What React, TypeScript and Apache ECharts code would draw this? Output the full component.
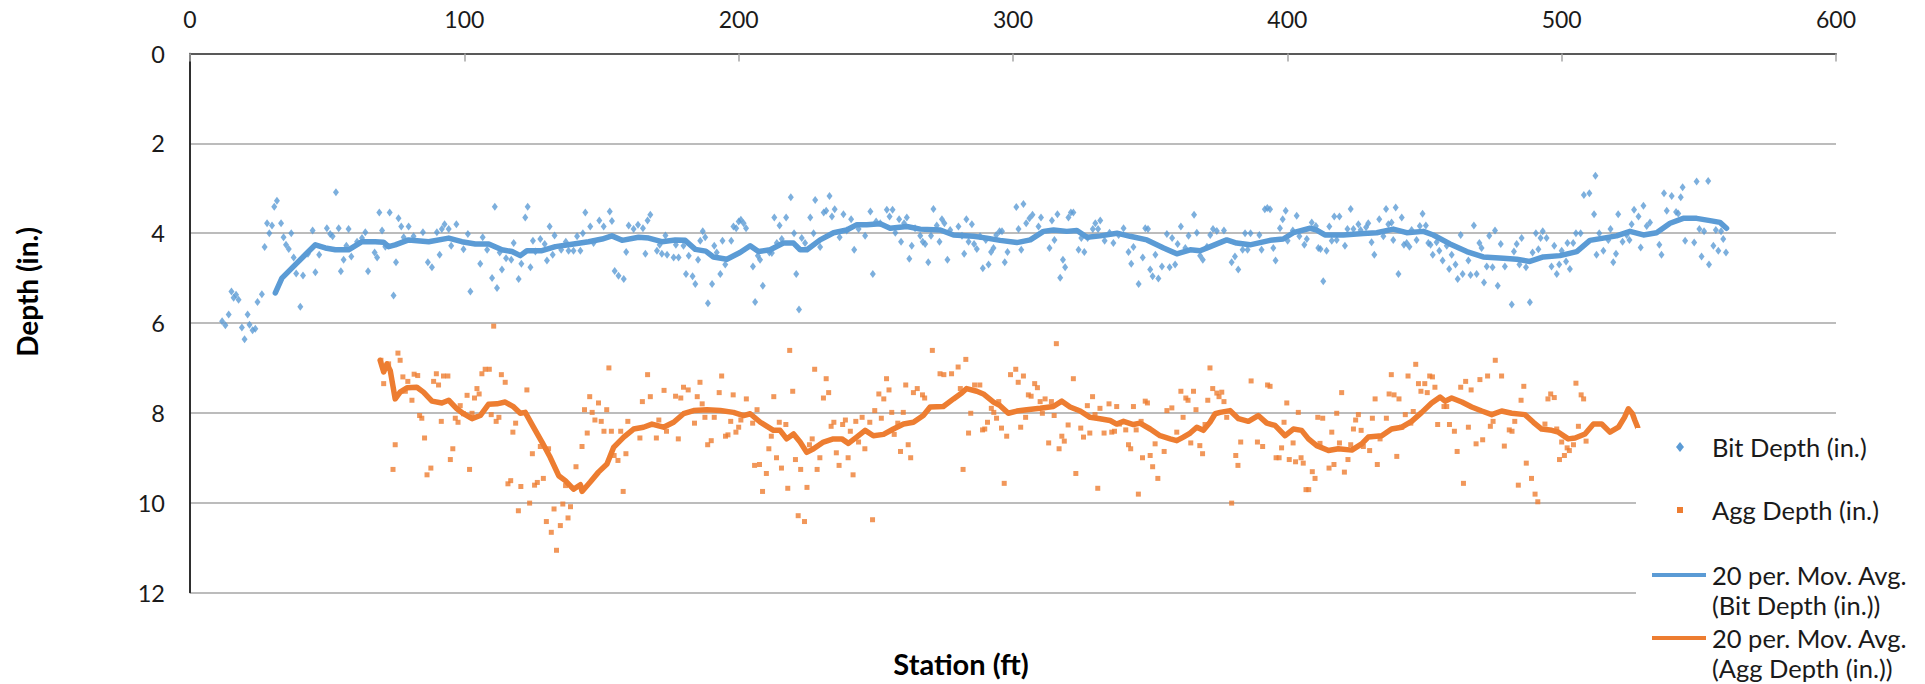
import { useEffect, useRef } from "react";
import * as echarts from "echarts";

// ---------- data ----------
const X_MIN = 0;
const X_MAX = 600;
const X_INTERVAL = 100;
const Y_MIN = 0;
const Y_MAX = 12;
const Y_INTERVAL = 2;

const SERIES_NAMES = [
  "Bit Depth (in.)",
  "Agg Depth (in.)",
  "20 per. Mov. Avg. (Bit Depth (in.))",
  "20 per. Mov. Avg. (Agg Depth (in.))",
];

// Bit depth samples [station ft, depth in.]
const bitDepthPoints: [number, number][] = [
  [11.7,5.96],[12.9,6.05],[14.1,5.81],[15.1,5.30],[15.9,5.44],[16.8,5.37],[17.7,5.48],[18.9,6.10],[19.9,6.36],[21,5.81],
  [21.7,6.04],[22.8,6.16],[23.8,6.13],[24.6,5.53],[26.2,5.36],[27.2,4.31],[28.1,3.78],[28.9,4.0],[29.9,3.83],[30.7,3.41],
  [31.7,3.28],[33.2,3.78],[34.1,4.09],[35,4.26],[36,4.35],[36.9,4.0],[37.8,4.54],[38.7,4.90],[40.2,5.64],[41.2,4.94],
  [43,4.46],[44.7,3.94],[45.7,4.87],[47.1,4.48],[49.9,3.89],[51.1,4.02],[52,4.07],[53.2,3.09],[54.2,3.89],[55,4.85],
  [56,4.59],[57,4.28],[57.8,3.91],[58.8,4.52],[60.9,4.19],[62.7,4.11],[63.9,3.98],[64.9,4.85],[67.3,4.43],[68.2,4.54],
  [69,3.54],[70,3.94],[71.2,4.30],[72.8,3.54],[74.2,5.39],[75.1,4.65],[76,3.67],[77,3.85],[77.9,4.09],[79.7,3.85],
  [81.5,4.07],[84.9,3.98],[86.7,4.65],[88.2,4.76],[90,3.98],[91,4.48],[91.8,3.91],[92.8,3.80],[94.3,3.91],[95.2,4.28],
  [97.1,3.80],[99.7,4.36],[101.3,4.02],[102.2,5.30],[105.8,4.68],[106.7,4.09],[108.3,4.37],[110.1,5.0],[111.1,3.41],[111.9,5.22],
  [112.9,4.43],[113.7,4.81],[115.2,4.56],[117.1,4.59],[118,4.22],[119.8,5.02],[120.8,4.68],[122.2,3.65],[123.1,3.41],[124.1,4.76],
  [125,4.17],[125.9,4.41],[127.7,4.13],[129.3,4.24],[130.1,4.61],[131.1,3.85],[132.2,4.48],[132.9,4.05],[135.3,4.37],[137,4.19],
  [138,4.39],[139.8,4.39],[141.1,4.07],[142.3,4.39],[143.2,4.0],[144.1,3.54],[145.9,3.85],[147.1,4.22],[149.2,3.72],[150.8,3.85],
  [153,3.52],[153.8,3.73],[154.8,4.84],[156.2,4.95],[158.1,5.02],[159,4.42],[159.9,3.83],[161.7,3.91],[163.3,3.81],[165.1,3.89],
  [166,4.46],[166.8,3.72],[167.8,3.59],[170.2,4.39],[171.2,4.26],[172,4.46],[173.3,4.05],[173.9,4.48],[176.3,4.54],[177.1,4.26],
  [178.1,4.54],[179.9,4.28],[180.8,4.91],[181.8,4.50],[183.2,4.96],[184.2,5.13],[185.2,4.59],[186,4.17],[186.9,3.96],[187.8,4.09],
  [188.8,5.56],[190.3,5.13],[191.1,4.28],[192,4.43],[193.3,4.91],[194.1,4.17],[195.1,4.70],[197.3,4.17],[198.1,3.85],[199.1,3.89],
  [200,3.74],[200.8,3.70],[201.8,3.78],[202.7,3.89],[205.2,4.74],[206,5.53],[207,4.50],[207.8,4.59],[208.8,5.17],[211.2,4.43],
  [212.1,4.44],[213,3.65],[213.9,4.22],[214.9,3.83],[215.7,4.13],[217.3,3.65],[219,3.20],[220.2,4.0],[221,4.91],[222,5.70],
  [223,4.11],[224.2,4.22],[226.1,3.65],[227.3,4.0],[227.9,3.26],[229.7,4.31],[231,3.54],[231.9,3.50],[233.1,3.17],[234,3.63],
  [235,3.47],[236.8,4.09],[238.2,3.58],[239.4,3.94],[241,3.69],[242.1,4.37],[243.7,3.91],[246.1,4.06],[248,3.52],[248.9,4.91],
  [250.1,3.74],[251.6,3.78],[254,3.48],[255,3.63],[256.1,3.48],[257.1,3.99],[258.5,3.69],[259.2,4.19],[260.3,3.78],[261.3,3.65],
  [262.2,4.57],[263.1,4.28],[264.3,3.89],[266.2,4.06],[267.1,4.19],[268,4.24],[269.1,4.65],[270.1,4.06],[271,3.46],[272.2,3.83],
  [273.2,4.19],[274.1,3.69],[275,3.78],[276.1,4.59],[277.1,3.93],[280.1,3.85],[281.4,4.06],[282.2,4.46],[283,3.69],[283.8,4.19],
  [285,3.80],[285.8,4.24],[286.8,4.35],[288,4.07],[289,4.78],[290.1,4.15],[291.1,4.70],[292,4.42],[292.9,4.33],[293.9,4.04],
  [295.1,3.96],[296,3.96],[297,4.65],[298,4.42],[301.2,3.42],[302,3.91],[303,4.37],[303.8,3.35],[304.8,3.78],[306,3.67],
  [307.1,3.59],[309.3,3.85],[310.2,3.65],[313.3,4.33],[314.2,3.72],[315.1,4.15],[316.2,3.58],[317.2,4.99],[318.2,4.59],[319,4.76],
  [320.2,3.65],[321.1,3.54],[322,3.54],[323.9,4.37],[324.9,4.11],[326,4.42],[327.2,4.11],[329.1,3.91],[330,3.78],[331,3.91],
  [331.8,3.72],[333.4,4.17],[335.2,3.99],[336.6,4.22],[338.5,4.04],[340.3,3.89],[342.1,4.42],[343.1,4.68],[343.9,4.31],[345.8,5.13],
  [347.3,4.54],[348.2,3.89],[349.2,3.91],[350,4.81],[350.9,4.96],[351.9,4.48],[353,5.01],[354.3,4.74],[356.1,4.02],[357.1,4.76],
  [358,4.11],[359.1,4.70],[360,4.24],[361.2,3.85],[362.8,4.33],[364,4.06],[366,3.59],[367,3.99],[368.2,4.50],[369.2,4.59],
  [370.7,4.30],[371.9,4.04],[372.9,3.91],[374.3,3.95],[376.9,3.94],[379.7,4.65],[380.9,4.52],[382.1,4.81],[383.7,4.37],[384.6,4.0],
  [385.5,4.37],[386.6,4.0],[389.8,4.04],[390.6,4.37],[391.8,3.47],[392.7,3.44],[393.7,3.47],[394.9,4.33],[395.7,4.61],[397.3,3.89],
  [398.3,3.69],[399.4,3.50],[400.1,4.17],[402,3.94],[403.4,3.61],[404.4,4.07],[406.2,4.26],[407.1,4.13],[408.9,3.76],[410.4,3.84],
  [411.3,4.33],[412.1,4.35],[413.1,5.07],[414.3,4.39],[415.3,3.85],[416.2,4.17],[417.1,3.63],[418,4.15],[419,3.63],[421,4.28],
  [421.9,3.91],[423.1,3.46],[424.1,3.91],[425.9,3.80],[426.7,3.93],[428.7,3.87],[429.5,3.78],[430.7,4.20],[431.7,4.48],[433.5,3.69],
  [435,4.07],[436,3.46],[436.8,3.80],[438,3.76],[438.6,4.15],[439.5,3.43],[440.5,4.91],[441.7,3.65],[442.5,4.26],[443.5,4.22],
  [444.5,4.30],[445.3,3.93],[447.1,4.15],[448.3,3.84],[449.3,3.57],[450.5,3.83],[451.4,4.22],[452.2,4.26],[453,4.48],[454.4,4.20],
  [455.4,4.39],[456.6,4.61],[458.1,4.28],[459,4.80],[459.9,4.48],[461.3,4.70],[462.1,5.02],[463.2,4.04],[463.9,4.91],[466,4.61],
  [466.8,4.93],[468,3.83],[469,4.91],[470,4.22],[470.8,4.33],[471.7,5.10],[472.7,4.74],[473.6,4.06],[474.8,4.76],[475.7,3.94],
  [476.7,5.17],[477.8,4.24],[479.3,4.74],[481.8,5.59],[482.6,4.41],[483.6,4.24],[484.6,4.70],[485.4,4.11],[487,4.76],[488.4,5.54],
  [489.4,4.43],[490.6,4.0],[491.5,4.36],[492.3,4.11],[493.1,3.96],[494.5,4.11],[496.3,4.74],[497.3,4.28],[498.2,4.91],[499.1,4.70],
  [500,4.39],[501.6,4.63],[502.1,4.22],[503,4.80],[504.2,4.22],[505.2,4.0],[506.9,4.0],[508.1,3.15],[510.1,3.11],[511.8,3.58],
  [512.3,2.72],[512.7,4.48],[513.7,4.0],[515.2,4.39],[517,4.15],[517.8,3.91],[518.8,4.65],[519.8,4.46],[520.6,3.58],[522.2,4.19],
  [523.7,4.04],[524.7,4.15],[525.5,3.80],[526.4,3.48],[528,3.63],[528.8,4.32],[529.8,3.39],[531,3.84],[532.2,3.76],[535.6,4.26],
  [536.4,4.48],[537.3,3.11],[538.3,3.50],[540.1,3.17],[541.7,3.53],[542.5,3.56],[543.4,3.20],[544.1,2.98],[545,4.17],[548.3,4.21],
  [549.2,2.85],[550.2,3.91],[551,4.52],[551.9,3.96],[553.4,2.84],[553.7,4.70],[555.3,4.28],[556.2,3.93],[557.1,4.39],[558.1,3.96],
  [558.9,4.13],[559.9,4.43],
];

// Agg depth samples [station ft, depth in.]
const aggDepthPoints: [number, number][] = [
  [69.6,6.83],[70.6,7.35],[72.4,6.91],[74,9.26],[74.8,8.71],[75.8,6.67],[76.6,6.83],[77.6,7.20],[78.5,7.52],[79.4,7.30],
  [80.9,7.72],[81.7,7.14],[83,7.17],[83.7,8.06],[84.5,8.12],[85.5,8.56],[86.4,9.38],[87.8,9.23],[88.8,7.30],[89.8,7.13],
  [90.6,7.38],[91.6,8.19],[92.4,7.18],[94,7.18],[94.9,9.04],[95.8,8.80],[96.7,8.12],[97.7,8.21],[98.5,7.84],[99.7,8.02],
  [101,7.61],[101.9,9.26],[102.8,8.01],[103.7,7.67],[104.6,7.46],[105.4,7.58],[106.4,7.13],[107.6,7.03],[109.1,7.03],[109.8,8.04],
  [110.7,6.07],[111.6,8.19],[112.6,8.10],[113.5,7.15],[114.9,7.32],[115.9,9.58],[116.9,9.51],[117.7,8.43],[118.7,8.23],[119.7,10.18],
  [120.6,9.64],[122.8,7.49],[123.8,10.01],[124.8,8.91],[125.6,9.61],[126.6,9.55],[127.7,8.75],[128.8,9.46],[129.9,10.42],[130.7,8.80],
  [131.7,10.66],[132.7,10.14],[133.6,11.06],[135,10.51],[135.9,10.03],[136.9,9.62],[137.8,10.34],[138.7,10.09],[140.7,9.20],[142.9,8.75],
  [143.8,7.93],[144.8,8.45],[145.7,7.64],[146.6,7.99],[147.6,8.16],[148.9,7.78],[149.9,8.19],[150.9,8.41],[151.9,7.93],[152.7,7.0],
  [153.6,8.41],[154.6,8.95],[156,9.06],[157,8.41],[157.9,9.75],[158.9,8.91],[159.6,8.19],[164,8.56],[164.9,7.75],[166.8,7.15],
  [167.8,7.64],[170,8.56],[170.9,8.16],[172.8,7.50],[173.7,8.41],[177,7.63],[178,8.58],[178.9,7.67],[179.9,7.43],[181.6,7.49],
  [183.9,8.23],[184.9,7.64],[185.9,7.32],[186.7,7.80],[187.7,8.10],[188.7,8.71],[190,8.62],[191.1,8.10],[192.9,7.55],[193.8,7.18],
  [195.2,8.52],[196.1,8.49],[197.1,8.19],[198,7.60],[199,8.43],[200,8.32],[200.8,8.16],[202.8,7.69],[205.1,8.23],[205.8,9.17],
  [206.7,7.93],[207.6,9.15],[208.7,9.75],[210.1,9.35],[211,8.80],[211.9,8.52],[212.8,7.64],[213.8,9.0],[214.8,8.21],[215.6,9.23],
  [217.2,8.26],[217.9,9.68],[218.6,6.61],[219.7,7.52],[220.7,9.04],[221.7,10.29],[222.6,9.26],[224,10.42],[224.9,9.66],[225.8,8.71],
  [226.8,8.58],[227.7,7.03],[228.6,9.26],[229.6,9.0],[230.9,7.67],[231.9,7.24],[232.8,7.55],[233.7,8.30],[234.7,8.21],[235.6,8.89],
  [236.6,9.17],[237.9,8.26],[238.9,8.16],[239.9,9.0],[240.7,8.41],[241.7,9.38],[242.7,8.19],[243.7,8.65],[245,8.10],[246,8.80],
  [247.8,8.21],[248.8,10.38],[249.6,7.95],[251.1,7.58],[252,8.12],[252.9,7.69],[253.9,7.24],[254.8,7.49],[255.8,7.99],[256.7,8.48],
  [258,8.23],[259,8.86],[260,7.99],[260.9,7.38],[261.8,8.71],[262.7,9.0],[263.7,7.55],[265.1,7.46],[267,7.60],[267.8,7.67],
  [270.6,6.61],[273.4,7.13],[274.8,7.15],[277.6,7.13],[280,6.98],[280.8,7.46],[281.8,9.26],[282.8,6.81],[283.8,8.45],[284.6,8.01],
  [286,7.38],[287.9,7.38],[288.9,8.38],[289.7,8.36],[290.7,8.21],[292.1,7.90],[293,7.99],[294,8.12],[294.8,7.75],[295.8,8.34],
  [296.8,9.57],[297.7,8.52],[299.1,7.15],[301,7.03],[301.9,7.32],[302.8,8.32],[303.8,7.18],[304.6,8.10],[305.6,7.60],[306.6,7.63],
  [307.9,7.35],[308.9,7.44],[309.9,7.75],[310.7,8.01],[311.7,7.69],[313,8.67],[314,7.75],[315,8.06],[315.8,6.46],[316.8,8.80],
  [317.8,8.52],[318.7,8.63],[320.1,8.27],[322,7.24],[322.9,9.35],[324.7,8.34],[325.7,8.54],[327.1,7.84],[328,8.45],[329,7.64],
  [329.9,8.04],[330.9,9.68],[331.7,7.90],[333.2,8.45],[335,7.80],[336,8.43],[337,8.41],[337.8,7.86],[338.8,8.25],[341.1,8.38],
  [342.1,8.71],[342.9,8.80],[343.9,7.86],[344.9,8.38],[345.7,9.81],[346.7,8.19],[347.2,9.0],[348.2,7.74],[349,7.78],[350,8.95],
  [350.9,9.20],[351.8,8.69],[352.8,9.46],[355.1,8.86],[356.1,7.95],[357.9,7.89],[359.7,8.43],[361.2,7.52],[362,8.10],[363,7.67],
  [363.8,7.72],[364.8,8.67],[365.8,7.52],[366.7,7.93],[368.1,8.73],[369.1,8.91],[370,8.26],[371,7.72],[371.8,7.0],[372.8,7.46],
  [374.3,7.56],[375.1,7.64],[376.1,7.54],[376.9,7.75],[377.9,8.10],[379.7,10.01],[381.2,8.95],[382,9.17],[383,8.65],[386.8,7.29],
  [389.1,8.65],[391,8.75],[392.8,7.38],[393.7,7.41],[395.9,9.0],[397,9.0],[397.9,8.78],[398.8,8.21],[399.8,7.78],[400.7,9.04],
  [402.1,8.67],[403,9.09],[404,7.99],[405,9.0],[405.8,9.12],[406.8,9.71],[407.8,9.71],[409.1,9.31],[410.1,9.46],[411.1,8.10],
  [411.9,8.68],[412.9,8.12],[415.2,9.23],[416.2,8.43],[417,9.15],[418,8.01],[419,8.67],[419.8,7.55],[420.8,9.32],[422.1,9.04],
  [423.1,8.71],[424.1,8.36],[424.9,8.16],[425.9,8.04],[426.9,8.39],[427.7,8.75],[430,8.84],[431,8.12],[432,7.69],[432.8,9.15],
  [433.8,8.58],[436.1,8.12],[437.1,7.58],[437.9,7.15],[438.9,7.60],[439.9,8.97],[440.7,7.69],[441.7,8.32],[443,8.04],[444,7.18],
  [445,8.23],[445.9,7.97],[446.8,6.92],[447.8,7.35],[448.7,7.52],[450.1,7.35],[451,7.55],[451.9,7.18],[452.9,7.20],[453.8,7.43],
  [454.8,8.26],[457.1,7.86],[458.1,7.86],[459.1,8.26],[460.9,8.41],[461.9,8.86],[463.2,7.43],[464.2,9.57],[465,7.30],[466,8.32],
  [467,7.49],[468.8,8.69],[470.2,7.26],[471.2,8.60],[473,7.18],[474,8.30],[475,8.19],[475.8,6.83],[478.1,7.18],[479.1,8.74],
  [480.9,8.38],[481.9,8.41],[482.9,8.19],[484.2,9.61],[485.2,7.72],[486.2,7.41],[487.1,9.12],[489,9.46],[490.3,9.81],[491.3,9.98],
  [493.9,8.25],[495,7.69],[496,7.58],[497.3,7.66],[498.2,8.36],[499.2,9.04],[500,8.65],[501,8.95],[502,8.78],[502.8,8.84],
  [504.3,8.71],[505.2,7.34],[506.1,8.30],[507.1,7.60],[508,7.69],[508.9,8.63],
];

// 20-period moving average (trendline) of Bit Depth
const bitMovingAvg: [number, number][] = [
  [31.1,5.33],[33.5,5.0],[38.4,4.70],[42,4.48],[45.7,4.26],[49.3,4.33],[53,4.37],[57.8,4.37],[62.7,4.19],[67.5,4.19],
  [70.5,4.20],[72.4,4.30],[74.8,4.26],[79.7,4.15],[87,4.19],[94.3,4.11],[99.1,4.19],[104,4.24],[108.9,4.24],[113.7,4.37],
  [117.4,4.41],[120.4,4.50],[122.8,4.39],[128.3,4.39],[133.2,4.30],[138,4.26],[145.3,4.19],[150.2,4.13],[153.8,4.06],[157.5,4.16],
  [163.5,4.09],[167.2,4.11],[172,4.19],[176.9,4.15],[180.5,4.16],[184.2,4.36],[188,4.40],[190.8,4.53],[195.7,4.58],[200.5,4.43],
  [204.2,4.28],[207.2,4.41],[211.5,4.37],[216.3,4.22],[220,4.22],[222.4,4.37],[224.9,4.37],[229.7,4.15],[234.6,3.99],[239.4,3.93],
  [243.1,3.81],[246.7,3.81],[251.6,3.79],[255.2,3.89],[261.3,3.85],[266.2,3.91],[273.5,3.93],[278.3,4.04],[285.6,4.07],[290.5,4.11],
  [295.3,4.16],[301.4,4.21],[306.3,4.15],[311.1,3.96],[314.8,3.93],[319.6,3.96],[323.3,3.94],[327,4.09],[331.8,4.06],[337.9,4.0],
  [342.7,4.07],[348.8,4.15],[354.9,4.33],[359.7,4.46],[364.6,4.37],[368.2,4.39],[371.9,4.30],[377.9,4.15],[381.5,4.22],[386.4,4.26],
  [393.7,4.16],[398.5,4.13],[402.2,3.99],[408.3,3.89],[410.7,3.93],[413.7,4.04],[420.4,4.04],[427.7,4.01],[432.6,3.99],[438.6,3.91],
  [443.5,3.99],[449.6,3.96],[453.2,4.04],[459.3,4.24],[465.4,4.41],[471.4,4.53],[478.7,4.56],[483.6,4.58],[488.4,4.63],[493.3,4.53],
  [499.4,4.50],[505.5,4.41],[510.3,4.16],[515.2,4.11],[520,4.06],[524.9,3.96],[529.8,4.04],[534.6,3.99],[539.5,3.78],[544.3,3.67],
  [549.2,3.67],[554.1,3.72],[557.7,3.76],[560.1,3.89],
];

// 20-period moving average (trendline) of Agg Depth
const aggMovingAvg: [number, number][] = [
  [69.3,6.83],[70.6,7.09],[71.8,6.91],[73,7.06],[74.8,7.69],[76.6,7.54],[79.1,7.44],[82.7,7.43],[85.1,7.54],[88.2,7.74],
  [91.8,7.78],[94.3,7.72],[97.3,7.91],[99.7,8.02],[102.8,8.13],[105.8,8.06],[108.8,7.81],[111.9,7.80],[114.9,7.76],[118,7.87],
  [120.4,8.01],[122.2,7.99],[125.2,8.32],[128.3,8.65],[131.3,8.99],[134.4,9.40],[136.8,9.51],[139.8,9.70],[142.3,9.60],[142.9,9.75],
  [145.9,9.54],[148.9,9.32],[152,9.14],[154.4,8.77],[158.1,8.54],[161.7,8.36],[165.3,8.32],[168.4,8.25],[172.6,8.32],[176.3,8.21],
  [179.9,8.02],[183.6,7.95],[188.4,7.93],[193.3,7.95],[198.1,7.99],[201.8,8.06],[204.2,8.02],[207.9,8.21],[212.7,8.39],[215.1,8.39],
  [217.5,8.58],[220,8.47],[222.4,8.65],[224.8,8.88],[227.3,8.80],[230.9,8.65],[234.5,8.58],[237.6,8.58],[240,8.68],[243,8.54],
  [246.1,8.39],[249.1,8.51],[252.8,8.48],[256.4,8.36],[260.1,8.25],[263.7,8.21],[267.3,8.06],[269.8,7.87],[274.6,7.86],[278.3,7.69],
  [281.3,7.56],[283.1,7.46],[286.8,7.52],[289.2,7.58],[292.9,7.76],[295.3,7.84],[298.3,8.01],[301.4,7.96],[305,7.93],[309.9,7.90],
  [314.7,7.86],[317.8,7.74],[320.8,7.87],[324.5,7.96],[328.1,8.10],[331.7,8.13],[335.4,8.17],[337.8,8.25],[340.3,8.19],[343.9,8.26],
  [346.3,8.23],[350,8.36],[353.6,8.51],[357.3,8.58],[359.7,8.62],[362.1,8.54],[364.6,8.45],[367,8.32],[369.4,8.39],[371.8,8.21],
  [373.7,8.02],[375.5,7.99],[379.1,7.95],[382.2,8.13],[385.8,8.19],[389.4,8.06],[392.5,8.23],[395.5,8.28],[399.2,8.51],[402.2,8.36],
  [405.2,8.39],[407.7,8.58],[410.7,8.73],[415,8.84],[418.6,8.80],[423.5,8.83],[427.1,8.69],[429.5,8.54],[434.4,8.51],[438,8.36],
  [441.7,8.32],[445.3,8.19],[449,7.99],[452.6,7.78],[455.7,7.65],[457.5,7.74],[459.9,7.67],[463.6,7.76],[467.2,7.87],[470.9,7.96],
  [474.5,8.04],[478.1,7.96],[481.8,8.01],[486.6,8.04],[489.7,8.21],[492.7,8.36],[496.4,8.39],[498.8,8.43],[502.4,8.58],[504.9,8.56],
  [508.5,8.47],[511.6,8.25],[514.6,8.25],[517.6,8.43],[520.7,8.32],[522.9,8.10],[524.3,7.91],[525.8,8.02],[526.7,8.17],[527.7,8.32],
];

// ---------- styling ----------
const BLUE = "#5B9BD5";
const ORANGE = "#ED7D31";
const FONT = "Lato, 'Open Sans', sans-serif";
const TEXT = "#1a1a1a";
const GRID_GRAY = "#a6a6a6";

const W = 1925;
const H = 684;
const GRID_LEFT = 190;
const GRID_RIGHT = 1836;
const GRID_TOP = 53.5;
const GRID_BOTTOM = 592.5;

export default function App() {
  const ref = useRef<HTMLDivElement>(null);

  useEffect(() => {
    if (!ref.current) return;
    const chart = echarts.init(ref.current, null, { renderer: "svg" });

    const legendX = 1652;
    const legendText = 1712;
    const legendFont = 25.5;

    chart.setOption({
      animation: false,
      backgroundColor: "#ffffff",
      grid: {
        left: GRID_LEFT,
        right: W - GRID_RIGHT,
        top: GRID_TOP,
        bottom: H - GRID_BOTTOM,
        containLabel: false,
      },
      xAxis: [
        {
          type: "value",
          position: "top",
          min: X_MIN,
          max: X_MAX,
          interval: X_INTERVAL,
          axisLine: { show: true, lineStyle: { color: GRID_GRAY, width: 1.5 } },
          axisTick: { show: true, inside: true, length: 8, lineStyle: { color: GRID_GRAY, width: 1.5 } },
          axisLabel: { show: true, margin: 23, fontSize: 23, fontFamily: FONT, color: TEXT },
          splitLine: { show: false },
        },
        {
          type: "value",
          position: "bottom",
          min: X_MIN,
          max: X_MAX,
          axisLine: { show: true, lineStyle: { color: "#595959", width: 2 } },
          axisTick: { show: false },
          axisLabel: { show: false },
          splitLine: { show: false },
        },
      ],
      yAxis: [
        {
          type: "value",
          inverse: true,
          min: Y_MIN,
          max: Y_MAX,
          interval: Y_INTERVAL,
          axisLine: { show: true, lineStyle: { color: GRID_GRAY, width: 1.5 } },
          axisTick: { show: false },
          axisLabel: { show: true, margin: 25, fontSize: 23.5, fontFamily: FONT, color: TEXT },
          splitLine: { show: true, lineStyle: { color: GRID_GRAY, width: 1.5 } },
        },
        {
          type: "value",
          inverse: true,
          position: "right",
          min: Y_MIN,
          max: Y_MAX,
          axisLine: { show: true, lineStyle: { color: "#000000", width: 1.5 } },
          axisTick: { show: false },
          axisLabel: { show: false },
          splitLine: { show: false },
        },
      ],
      legend: { show: false },
      series: [
        {
          name: SERIES_NAMES[0],
          type: "scatter",
          xAxisIndex: 0,
          yAxisIndex: 0,
          symbol: "diamond",
          symbolSize: [6, 8],
          itemStyle: { color: BLUE },
          data: bitDepthPoints,
          z: 2,
        },
        {
          name: SERIES_NAMES[1],
          type: "scatter",
          xAxisIndex: 0,
          yAxisIndex: 0,
          symbol: "rect",
          symbolSize: 5,
          itemStyle: { color: ORANGE },
          data: aggDepthPoints,
          z: 2,
        },
        {
          name: SERIES_NAMES[2],
          type: "line",
          xAxisIndex: 0,
          yAxisIndex: 0,
          showSymbol: false,
          symbol: "none",
          lineStyle: { color: BLUE, width: 5.5, cap: "round", join: "round" },
          itemStyle: { color: BLUE },
          data: bitMovingAvg,
          z: 3,
        },
        {
          name: SERIES_NAMES[3],
          type: "line",
          xAxisIndex: 0,
          yAxisIndex: 0,
          showSymbol: false,
          symbol: "none",
          lineStyle: { color: ORANGE, width: 5.5, cap: "round", join: "round" },
          itemStyle: { color: ORANGE },
          data: aggMovingAvg,
          z: 3,
        },
      ],
      graphic: [
        // legend background covering the lower right of the plot
        {
          type: "rect",
          z: 100,
          shape: { x: 1636, y: 428, width: W - 1636, height: H - 428 },
          style: { fill: "#ffffff" },
        },
        {
          type: "polygon",
          z: 110,
          shape: { points: [[1680, 442], [1684, 447], [1680, 452], [1676, 447]] },
          style: { fill: BLUE },
        },
        {
          type: "text",
          z: 110,
          style: { text: SERIES_NAMES[0], x: legendText, y: 447, fill: TEXT, fontSize: legendFont, fontFamily: FONT, verticalAlign: "middle", align: "left" },
        },
        {
          type: "rect",
          z: 110,
          shape: { x: 1677, y: 507, width: 6, height: 6 },
          style: { fill: ORANGE },
        },
        {
          type: "text",
          z: 110,
          style: { text: SERIES_NAMES[1], x: legendText, y: 510, fill: TEXT, fontSize: legendFont, fontFamily: FONT, verticalAlign: "middle", align: "left" },
        },
        {
          type: "line",
          z: 110,
          shape: { x1: legendX, y1: 575, x2: 1706, y2: 575 },
          style: { stroke: BLUE, lineWidth: 4 },
        },
        {
          type: "text",
          z: 110,
          style: { text: "20 per. Mov. Avg.\n(Bit Depth (in.))", x: legendText, y: 560, fill: TEXT, fontSize: legendFont, lineHeight: 30, fontFamily: FONT, verticalAlign: "top", align: "left" },
        },
        {
          type: "line",
          z: 110,
          shape: { x1: legendX, y1: 638, x2: 1706, y2: 638 },
          style: { stroke: ORANGE, lineWidth: 4 },
        },
        {
          type: "text",
          z: 110,
          style: { text: "20 per. Mov. Avg.\n(Agg Depth (in.))", x: legendText, y: 623, fill: TEXT, fontSize: legendFont, lineHeight: 30, fontFamily: FONT, verticalAlign: "top", align: "left" },
        },
        // axis titles
        {
          type: "text",
          z: 110,
          x: 961,
          y: 663,
          style: { text: "Station (ft)", fill: "#000", fontSize: 29, fontWeight: "bold", fontFamily: FONT, align: "center", verticalAlign: "middle" },
        },
        {
          type: "text",
          z: 110,
          x: 27,
          y: 292,
          rotation: Math.PI / 2,
          style: { text: "Depth (in.)", fill: "#000", fontSize: 28, fontWeight: "bold", fontFamily: FONT, align: "center", verticalAlign: "middle" },
        },
      ],
    });

    return () => {
      chart.dispose();
    };
  }, []);

  return (
    <div
      ref={ref}
      style={{ position: "fixed", left: 0, top: 0, width: W, height: H, background: "#fff" }}
    />
  );
}
